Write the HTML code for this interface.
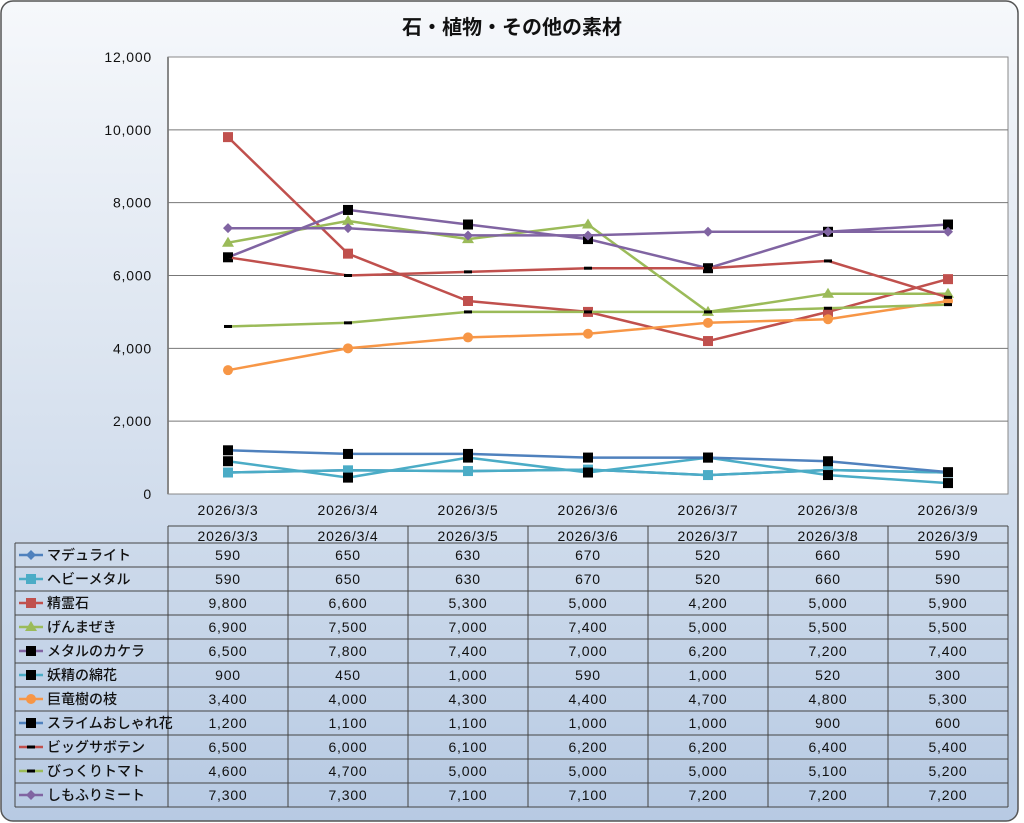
<!DOCTYPE html>
<html><head><meta charset="utf-8"><style>
html,body{margin:0;padding:0;width:1024px;height:823px;overflow:hidden;background:#fff}
svg text{font-family:"Liberation Sans","Noto Sans CJK JP",sans-serif;}
</style></head><body>
<svg id="s" width="1024" height="823" xmlns="http://www.w3.org/2000/svg">
<defs><linearGradient id="bg" x1="0" y1="0" x2="0" y2="1">
<stop offset="0" stop-color="#f6f8fb"/><stop offset="0.45" stop-color="#dbe4f0"/><stop offset="1" stop-color="#b7cae3"/></linearGradient></defs>
<rect x="1" y="1" width="1017" height="820" rx="12" fill="url(#bg)" stroke="#555" stroke-width="1.5"/>
<text x="512" y="34" font-size="20" font-weight="bold" text-anchor="middle" fill="#111">石・植物・その他の素材</text>
<rect x="168" y="57" width="840" height="437" fill="#fff" stroke="#888"/>
<line x1="168" y1="57" x2="168" y2="494" stroke="#888" stroke-width="2"/>
</svg>
<script>
var N="http://www.w3.org/2000/svg",s=document.getElementById('s');
function el(t,a,txt){var e=document.createElementNS(N,t);for(var k in a)e.setAttribute(k,a[k]);if(txt!=null)e.textContent=txt;s.appendChild(e);return e;}
function Y(v){return 494-v*437/12000;}
function X(i){return 228+120*i;}
var T={'font-size':14,'letter-spacing':'0.8',fill:'#111','font-weight':'500'};
function tx(x,y,anchor,txt,ls){var a={x:x,y:y,'text-anchor':anchor};for(var k in T)a[k]=T[k];if(ls!=null)a['letter-spacing']=ls;return el('text',a,txt);}
for(var v=0;v<=12000;v+=2000){var y=Y(v);if(v>0&&v<12000)el('line',{x1:168,x2:1008,y1:y,y2:y,stroke:'#777'});
tx(152,y+5,'end',v.toLocaleString('en-US'));}
var dates=["2026/3/3","2026/3/4","2026/3/5","2026/3/6","2026/3/7","2026/3/8","2026/3/9"];
dates.forEach(function(d,i){tx(X(i),515,'middle',d);});
var S=[
["マデュライト","#4F81BD","diamond",null,[590,650,630,670,520,660,590]],
["ヘビーメタル","#4BACC6","square",null,[590,650,630,670,520,660,590]],
["精霊石","#C0504D","square",null,[9800,6600,5300,5000,4200,5000,5900]],
["げんまぜき","#9BBB59","tri",null,[6900,7500,7000,7400,5000,5500,5500]],
["メタルのカケラ","#8064A2","square","#000",[6500,7800,7400,7000,6200,7200,7400]],
["妖精の綿花","#4BACC6","square","#000",[900,450,1000,590,1000,520,300]],
["巨竜樹の枝","#F79646","circle",null,[3400,4000,4300,4400,4700,4800,5300]],
["スライムおしゃれ花","#4F81BD","square","#000",[1200,1100,1100,1000,1000,900,600]],
["ビッグサボテン","#C0504D","dash","#000",[6500,6000,6100,6200,6200,6400,5400]],
["びっくりトマト","#9BBB59","dash","#000",[4600,4700,5000,5000,5000,5100,5200]],
["しもふりミート","#8064A2","diamond",null,[7300,7300,7100,7100,7200,7200,7200]]];
function mark(m,c,x,y){
 if(m=="diamond")el('path',{d:'M'+x+' '+(y-5)+'L'+(x+5)+' '+y+'L'+x+' '+(y+5)+'L'+(x-5)+' '+y+'Z',fill:c});
 else if(m=="square")el('rect',{x:x-5,y:y-5,width:10,height:10,fill:c});
 else if(m=="tri")el('path',{d:'M'+x+' '+(y-6)+'L'+(x+6)+' '+(y+4)+'L'+(x-6)+' '+(y+4)+'Z',fill:c});
 else if(m=="circle")el('circle',{cx:x,cy:y,r:5,fill:c});
 else el('rect',{x:x-4,y:y-1.5,width:8,height:3,fill:c});}
S.forEach(function(r){var p=r[4].map(function(v,i){return X(i)+','+Y(v).toFixed(1);}).join(' ');
 el('polyline',{points:p,fill:'none',stroke:r[1],'stroke-width':2.5});
 r[4].forEach(function(v,i){mark(r[2],r[3]||r[1],X(i),Y(v));});});
var ty=526,rh=24,t0=543;
el('line',{x1:168,x2:1008,y1:ty,y2:ty,stroke:'#444'});
dates.forEach(function(d,i){tx(X(i),541,'middle',d);});
for(var i=0;i<=11;i++)el('line',{x1:15,x2:1008,y1:t0+i*rh,y2:t0+i*rh,stroke:'#444'});
el('line',{x1:15,x2:15,y1:t0,y2:t0+11*rh,stroke:'#444'});
for(var j=0;j<=7;j++)el('line',{x1:168+120*j,x2:168+120*j,y1:ty,y2:t0+11*rh,stroke:'#444'});
S.forEach(function(r,k){var cy=t0+k*rh+12;
 el('line',{x1:19,x2:43,y1:cy,y2:cy,stroke:r[1],'stroke-width':2.5});mark(r[2],r[3]||r[1],31,cy);
 tx(47,cy+5,'start',r[0],'0');
 r[4].forEach(function(v,i){tx(X(i),cy+5,'middle',v.toLocaleString('en-US'));});});
</script>
</body></html>
